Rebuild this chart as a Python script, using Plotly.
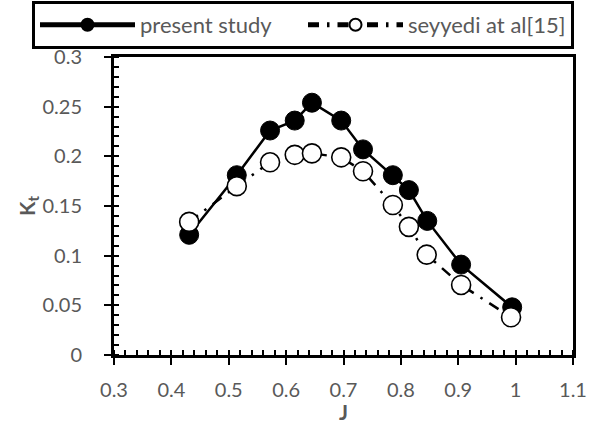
import plotly.graph_objects as go

# Data
j_present = [0.431, 0.514, 0.572, 0.615, 0.645, 0.696, 0.734, 0.786, 0.814, 0.846, 0.905, 0.994]
kt_present = [0.121, 0.181, 0.226, 0.236, 0.254, 0.236, 0.207, 0.181, 0.166, 0.135, 0.091, 0.048]

j_seyyedi = [0.431, 0.514, 0.572, 0.615, 0.645, 0.696, 0.734, 0.786, 0.814, 0.845, 0.905, 0.992]
kt_seyyedi = [0.134, 0.170, 0.194, 0.2015, 0.203, 0.199, 0.185, 0.151, 0.129, 0.101, 0.0705, 0.038]

FONT = "Lato"
GREY = "#595959"

L, R, T, B = 114, 18, 57, 69
W, H = 591, 424
PW, PH = W - L - R, H - T - B

fig = go.Figure()
fig.add_trace(go.Scatter(
    x=j_present, y=kt_present, mode="lines+markers", name="present study",
    line=dict(color="black", width=2.5),
    marker=dict(symbol="circle", size=19, color="black", line=dict(color="black", width=1)),
))
fig.add_trace(go.Scatter(
    x=j_seyyedi, y=kt_seyyedi, mode="lines+markers", name="seyyedi at al[15]",
    line=dict(color="black", width=2.5, dash="11px,8px,2.5px,8px"),
    marker=dict(symbol="circle", size=19, color="white", line=dict(color="black", width=1.6)),
))

axis_common = dict(
    showline=True, linecolor="black", linewidth=3, mirror=True,
    ticks="outside", ticklen=7, tickwidth=2, tickcolor="black",
    showgrid=False, zeroline=False,
    tickfont=dict(family=FONT, size=20, color=GREY),
)

fig.update_xaxes(
    range=[0.3, 1.1], dtick=0.1, tick0=0.3,
    minor=dict(dtick=0.02, ticks="inside", ticklen=5, tickwidth=1.5, tickcolor="black", showgrid=False),
    title=dict(text="<b>J</b>", font=dict(family=FONT, size=21, color=GREY), standoff=6),
    ticklabelstandoff=8,
    **axis_common,
)
fig.update_yaxes(
    range=[0, 0.3], dtick=0.05, tick0=0,
    minor=dict(dtick=0.01, ticks="inside", ticklen=5, tickwidth=1.5, tickcolor="black", showgrid=False),
    title=dict(text="<b>K<sub>t</sub></b>", font=dict(family=FONT, size=21, color=GREY), standoff=0),
    ticklabelstandoff=18,
    **axis_common,
)

fig.update_layout(
    width=W, height=H,
    margin=dict(l=L, r=R, t=T, b=B, autoexpand=False),
    plot_bgcolor="white", paper_bgcolor="white",
    showlegend=True,
    legend=dict(
        orientation="h", xref="paper", yref="paper",
        x=(32 - L) / PW, xanchor="left", y=1 + (T - 1) / PH, yanchor="top",
        bordercolor="black", borderwidth=3,
        font=dict(family=FONT, size=22, color=GREY),
        itemwidth=95,
        entrywidth=158, entrywidthmode="pixels",
        itemsizing="constant",
    ),
)

fig.write_html("out.html")
